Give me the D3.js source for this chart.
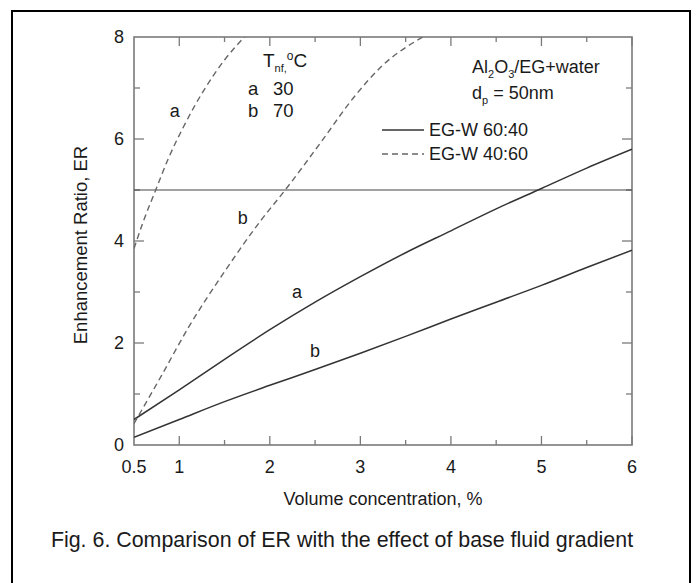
<!DOCTYPE html>
<html>

<head>
  <meta charset="utf-8">
  <title>Enhancement Ratio vs Volume Concentration</title>
  <style>
    body {
      margin: 0;
      background-color: #fff;
    }

    svg text {
      font-family: "Liberation Sans", Arial, sans-serif;
      fill: #1a1a1a;
    }
  </style>
</head>

<body>
  <svg width="699" height="583"></svg>
  <script src="https://d3js.org/d3.v7.min.js"></script>
  <script>
    // volume concentration (%) for the solid curves
    var phiSolid = [0.5, 1, 1.5, 2, 2.5, 3, 3.5, 4, 4.5, 5, 5.5, 6];
    // EG-W 60:40, a = 30 C, b = 70 C
    var solidA = [0.5, 1.08, 1.68, 2.26, 2.8, 3.3, 3.77, 4.2, 4.63, 5.03, 5.43, 5.8];
    var solidB = [0.15, 0.5, 0.85, 1.17, 1.48, 1.8, 2.13, 2.47, 2.8, 3.13, 3.48, 3.82];

    // EG-W 40:60 (dashed)
    var phiDashA = [0.5, 0.6, 0.74, 0.88, 1.05, 1.28, 1.5, 1.72];
    var dashA = [3.85, 4.37, 5.0, 5.62, 6.25, 6.98, 7.55, 8.0];
    var phiDashB = [0.5, 0.8, 1.1, 1.5, 1.9, 2.17, 2.57, 2.92, 3.25, 3.69];
    var dashB = [0.42, 1.35, 2.3, 3.4, 4.4, 5.0, 5.95, 6.8, 7.45, 8.0];

    var refLine = 5;
    var xTicks = [0.5, 1, 2, 3, 4, 5, 6];
    var xMinor = [1.5, 2.5, 3.5, 4.5, 5.5];
    var yTicks = [0, 2, 4, 6, 8];
    var yMinor = [1, 3, 5, 7];

    var svg = d3.select("svg");
    var pL = 134, pR = 632, pT = 37, pB = 445;

    var x = d3.scaleLinear().domain([0.5, 6]).range([pL, pR]);
    var y = d3.scaleLinear().domain([0, 8]).range([pB, pT]);

    // outer frame
    svg.append("rect")
      .attr("x", 12).attr("y", 11)
      .attr("width", 678).attr("height", 580)
      .attr("fill", "none")
      .attr("stroke", "#000")
      .attr("stroke-width", 2);

    svg.append("clipPath").attr("id", "plot")
      .append("rect")
      .attr("x", pL).attr("y", pT)
      .attr("width", pR - pL).attr("height", pB - pT);

    var axisColor = "#7a7a7a";

    // ticks, all pointing inward
    var tk = svg.append("g").attr("stroke", axisColor).attr("stroke-width", 1.3);
    xTicks.slice(1).concat(xMinor).forEach(function (v) {
      var len = xMinor.indexOf(v) < 0 ? 9 : 5;
      tk.append("line").attr("x1", x(v)).attr("x2", x(v)).attr("y1", pB).attr("y2", pB - len);
      tk.append("line").attr("x1", x(v)).attr("x2", x(v)).attr("y1", pT).attr("y2", pT + len);
    });
    yTicks.slice(1, -1).concat(yMinor).forEach(function (v) {
      var len = yMinor.indexOf(v) < 0 ? 10 : 6;
      tk.append("line").attr("x1", pL).attr("x2", pL + len).attr("y1", y(v)).attr("y2", y(v));
      tk.append("line").attr("x1", pR).attr("x2", pR - len).attr("y1", y(v)).attr("y2", y(v));
    });

    // plot frame
    svg.append("rect")
      .attr("x", pL).attr("y", pT)
      .attr("width", pR - pL).attr("height", pB - pT)
      .attr("fill", "none")
      .attr("stroke", axisColor)
      .attr("stroke-width", 1.6);

    // tick labels
    svg.append("g").selectAll("text")
      .data(xTicks)
      .enter().append("text")
      .attr("x", function (d) { return x(d); })
      .attr("y", pB + 28)
      .attr("text-anchor", "middle")
      .attr("font-size", 18)
      .text(function (d) { return d; });

    svg.append("g").selectAll("text")
      .data(yTicks)
      .enter().append("text")
      .attr("x", pL - 10)
      .attr("y", function (d) { return y(d); })
      .attr("dy", "0.35em")
      .attr("text-anchor", "end")
      .attr("font-size", 18)
      .text(function (d) { return d; });

    // axis titles
    svg.append("text")
      .attr("x", 383).attr("y", 505)
      .attr("text-anchor", "middle")
      .attr("font-size", 18)
      .text("Volume concentration, %");

    svg.append("text")
      .attr("transform", "translate(87,245)rotate(-90)")
      .attr("text-anchor", "middle")
      .attr("font-size", 18.5)
      .text("Enhancement Ratio, ER");

    // reference line at ER = 5
    svg.append("line")
      .attr("x1", pL).attr("x2", pR)
      .attr("y1", y(refLine)).attr("y2", y(refLine))
      .attr("stroke", "#444")
      .attr("stroke-width", 1.1);

    var line = d3.line()
      .x(function (d) { return x(d[0]); })
      .y(function (d) { return y(d[1]); })
      .curve(d3.curveMonotoneX);

    var curves = [
      { px: phiSolid, v: solidA, dash: null },
      { px: phiSolid, v: solidB, dash: null },
      { px: phiDashA, v: dashA, dash: "6,4" },
      { px: phiDashB, v: dashB, dash: "6,4" }
    ];

    svg.append("g")
      .attr("clip-path", "url(#plot)")
      .selectAll("path")
      .data(curves)
      .enter().append("path")
      .attr("d", function (c) { return line(d3.zip(c.px, c.v)); })
      .attr("fill", "none")
      .attr("stroke", function (c) { return c.dash ? "#666" : "#333"; })
      .attr("stroke-width", function (c) { return c.dash ? 1.4 : 1.5; })
      .attr("stroke-dasharray", function (c) { return c.dash; });

    // curve labels
    var curveLabels = [
      { t: "a", px: 0.95, v: 6.55 },
      { t: "b", px: 1.7, v: 4.45 },
      { t: "a", px: 2.3, v: 3.0 },
      { t: "b", px: 2.5, v: 1.84 }
    ];
    svg.append("g").selectAll("text")
      .data(curveLabels)
      .enter().append("text")
      .attr("x", function (d) { return x(d.px); })
      .attr("y", function (d) { return y(d.v); })
      .attr("dy", "0.35em")
      .attr("text-anchor", "middle")
      .attr("font-size", 18)
      .text(function (d) { return d.t; });

    // temperature key
    var tKey = svg.append("text").attr("x", 263).attr("y", 67).attr("font-size", 19);
    tKey.append("tspan").text("T");
    tKey.append("tspan").attr("font-size", 11).attr("dy", 5).text("nf,");
    tKey.append("tspan").attr("font-size", 12).attr("dy", -12).text("o");
    tKey.append("tspan").attr("dy", 7).text("C");

    var temps = [["a", "30"], ["b", "70"]];
    temps.forEach(function (r, i) {
      svg.append("text").attr("x", 248).attr("y", 95 + i * 22).attr("font-size", 18.5).text(r[0]);
      svg.append("text").attr("x", 273).attr("y", 95 + i * 22).attr("font-size", 18.5).text(r[1]);
    });

    // material note
    var mat = svg.append("text").attr("x", 472).attr("y", 73).attr("font-size", 18);
    mat.append("tspan").text("Al");
    mat.append("tspan").attr("font-size", 11).attr("dy", 5).text("2");
    mat.append("tspan").attr("dy", -5).text("O");
    mat.append("tspan").attr("font-size", 11).attr("dy", 5).text("3");
    mat.append("tspan").attr("dy", -5).text("/EG+water");

    var dp = svg.append("text").attr("x", 472).attr("y", 99).attr("font-size", 18);
    dp.append("tspan").text("d");
    dp.append("tspan").attr("font-size", 11).attr("dy", 5).text("p");
    dp.append("tspan").attr("dy", -5).text(" = 50nm");

    // legend
    var legendItems = [["EG-W 60:40", null], ["EG-W 40:60", "6,4"]];
    var lg = svg.append("g").selectAll("g")
      .data(legendItems)
      .enter().append("g")
      .attr("transform", function (d, i) { return "translate(382," + (130 + i * 24) + ")"; });
    lg.append("line")
      .attr("x2", 42)
      .attr("stroke", function (d) { return d[1] ? "#666" : "#333"; })
      .attr("stroke-width", 1.3)
      .attr("stroke-dasharray", function (d) { return d[1]; });
    lg.append("text")
      .attr("x", 47)
      .attr("dy", "0.35em")
      .attr("font-size", 18)
      .text(function (d) { return d[0]; });

    // caption
    svg.append("text")
      .attr("x", 342).attr("y", 547)
      .attr("text-anchor", "middle")
      .attr("font-size", 21.4)
      .text("Fig. 6. Comparison of ER with the effect of base fluid gradient");
  </script>
</body>

</html>
